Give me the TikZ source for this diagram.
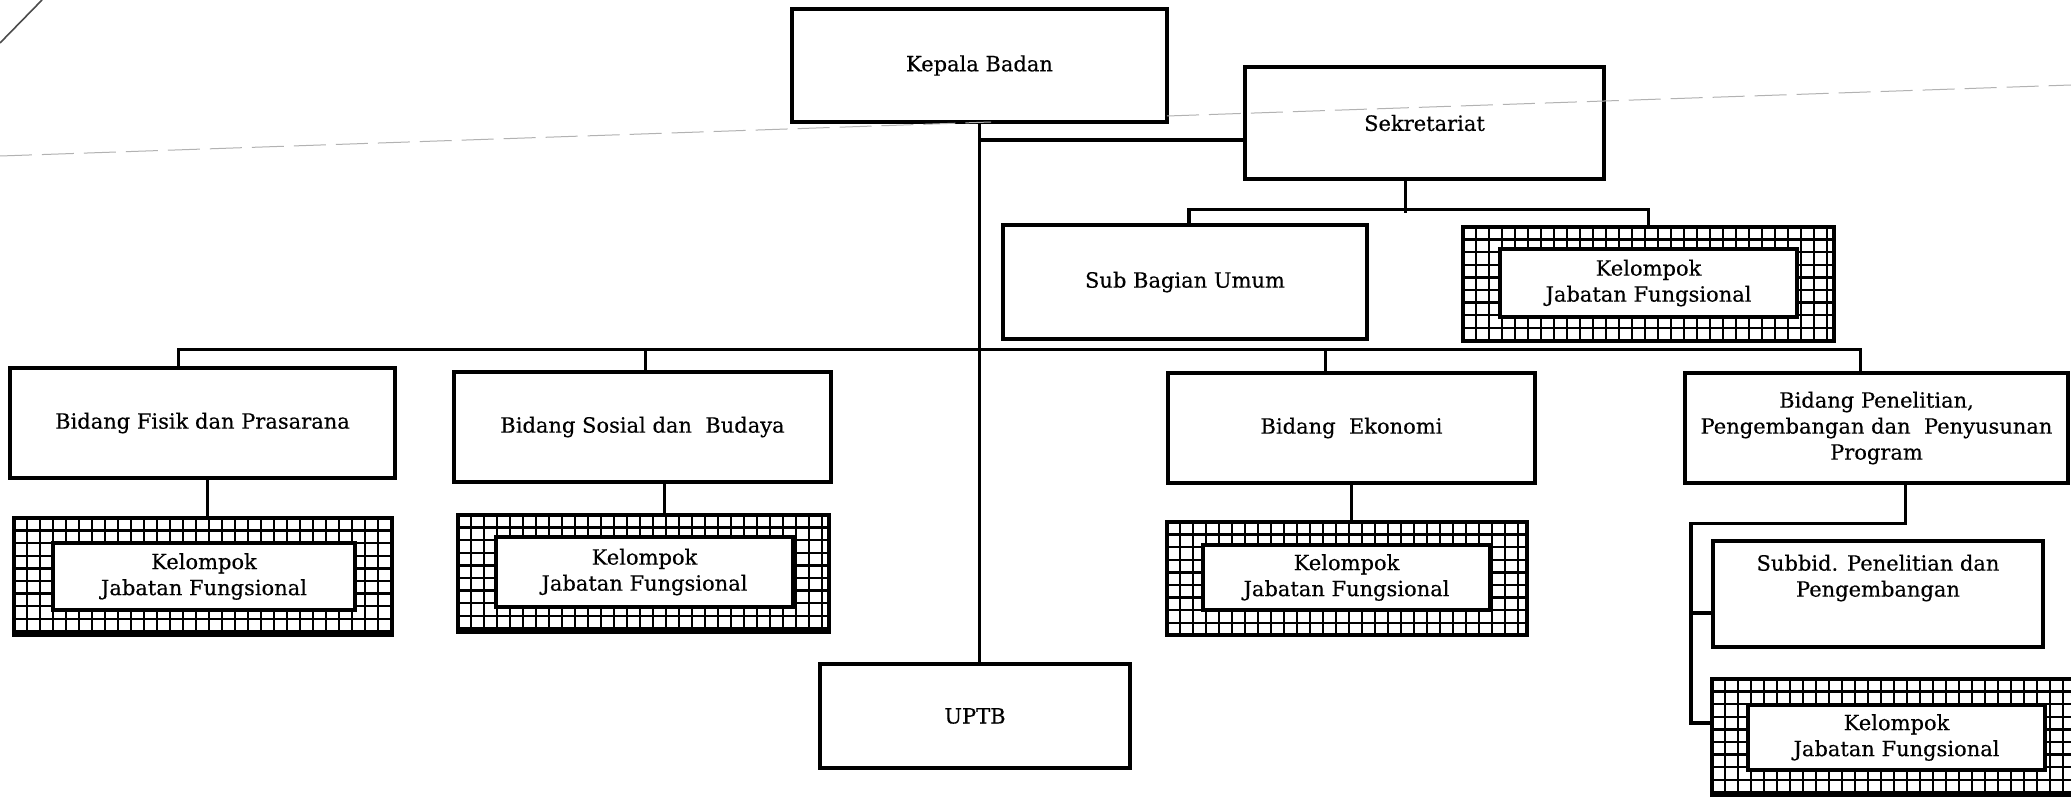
\documentclass[tikz,border=0pt]{standalone}
\usepackage{fontspec}
\setmainfont{DejaVu Serif}[FakeBold=0.4]
\usetikzlibrary{calc}
\begin{document}
\begin{tikzpicture}[x=0.5pt,y=-0.5pt,
  lbl/.style={font=\fontsize{10.5}{13}\selectfont, align=center},
  sz/.style 2 args={minimum width=#1pt, minimum height=#2pt},
  box/.style={lbl, draw, line width=1.7pt, fill=white, inner sep=0pt},
  conn/.style={line width=1.6pt},
  gridline/.style={line width=1.25pt},
  kouter/.style={draw, line width=2.1pt, fill=white, inner sep=0pt,
    path picture={
      \coordinate (pnw) at (path picture bounding box.north west);
      \coordinate (pse) at (path picture bounding box.south east);
      \foreach \k in {1,...,30}{\draw[gridline] ($(pnw)+(\k*13,0)$) -- ($(pnw|-pse)+(\k*13,0)$);}
      \foreach \k in {1,...,9}{\draw[gridline] ($(pnw)+(0,\k*12.6)$) -- ($(pnw-|pse)+(0,\k*12.6)$);}
    }},
  scan/.style={black!30, line width=0.5pt, dash pattern=on 16pt off 5pt}
]
\fill[white] (0,0) rectangle (2071,797);
\useasboundingbox (0,0) rectangle (2071,797);

% top level
\node[box, sz={187.5}{56.5}] (kepala) at (979.5,65.5) {Kepala Badan};
\node[box, sz={179.5}{56}] (sekr) at (1424.5,123) {Sekretariat};
\node[box, sz={182}{57}] (subbag) at (1185,282) {Sub Bagian Umum};
\node[kouter, sz={185.5}{57}] (ktr) at (1648.5,284) {};
\node[box, sz={148.5}{34}] (ktrin) at (1648.5,283) {Kelompok\\Jabatan Fungsional};

% bidang
\node[box, sz={192.5}{55}] (fisik) at (202.5,423) {Bidang Fisik dan Prasarana};
\node[box, sz={188.5}{55}] (sosial) at (642.5,427) {Bidang Sosial dan~ Budaya};
\node[box, sz={183.5}{55}] (ekon) at (1351.5,428) {Bidang~ Ekonomi};
\node[box, sz={191.5}{55}] (penel) at (1876.5,428) {Bidang Penelitian,\\Pengembangan dan~ Penyusunan\\Program};

% kelompok under bidang
\node[kouter, sz={189}{58.5}] (kfisik) at (203,576.5) {};
\node[box, sz={151}{33.5}] (kfisikin) at (204,576.5) {Kelompok\\Jabatan Fungsional};
\node[kouter, sz={185.5}{58.5}] (ksosial) at (643.5,573.5) {};
\node[box, sz={148.5}{35}] (ksosialin) at (644.5,572) {Kelompok\\Jabatan Fungsional};
\node[kouter, sz={180}{56.5}] (kekon) at (1347,578.5) {};
\node[box, sz={143.5}{32.5}] (kekonin) at (1346.5,577.5) {Kelompok\\Jabatan Fungsional};

% penelitian branch
\node[box, sz={165}{53}] (subbid) at (1878,594) {};
\node[lbl] (subbidtxt) at (1878,578) {Subbid. Penelitian dan\\Pengembangan};
\node[kouter, sz={185}{58}] (kpen) at (1897,737) {};
\node[box, sz={148.5}{32.5}] (kpenin) at (1896.5,737.5) {Kelompok\\Jabatan Fungsional};

% UPTB
\node[box, sz={155}{52}] (uptb) at (975,716) {UPTB};

% connectors
\draw[conn] (kepala.south) -- (kepala.south |- uptb.north);
\coordinate (sj) at ([yshift=-8.5pt]sekr.west);
\draw[conn] (kepala.south |- sj) -- (sj);
\draw[conn] ([xshift=-9.5pt]sekr.south) -- ++(0,32);
\draw[conn] ([xshift=2pt]subbag.north) -- ++(0,-14) -| (ktr.north);

\draw[conn] ([xshift=-12pt]fisik.north) -- ++(0,-17) -| ([xshift=-8pt]penel.north);
\draw[conn] ([xshift=1.5pt]sosial.north) -- ++(0,-21);
\draw[conn] ([xshift=-13pt]ekon.north) -- ++(0,-22);

\draw[conn] ([xshift=2.5pt]fisik.south) -- ([xshift=2.5pt]fisik.south |- kfisik.north);
\draw[conn] ([xshift=11pt]sosial.south) -- ([xshift=11pt]sosial.south |- ksosial.north);
\draw[conn] (ekon.south) -- (ekon.south |- kekon.north);

\coordinate (kpj) at ([yshift=7pt]kpen.west);
\coordinate (sbj) at ([yshift=-9.5pt]subbid.west);
\draw[conn] ([xshift=14.5pt]penel.south) -- ++(0,39) -| ([xshift=-9.5pt]kpj) -- (kpj);
\draw[conn] (sbj) -- ++(-20,0);

% faint scan marks
\draw[scan] (0,156) -- (991,122);
\draw[scan] (1167,116) -- (2071,85);
\draw[black!70, line width=0.8pt] (0,43) -- (42,0);
\end{tikzpicture}
\end{document}
